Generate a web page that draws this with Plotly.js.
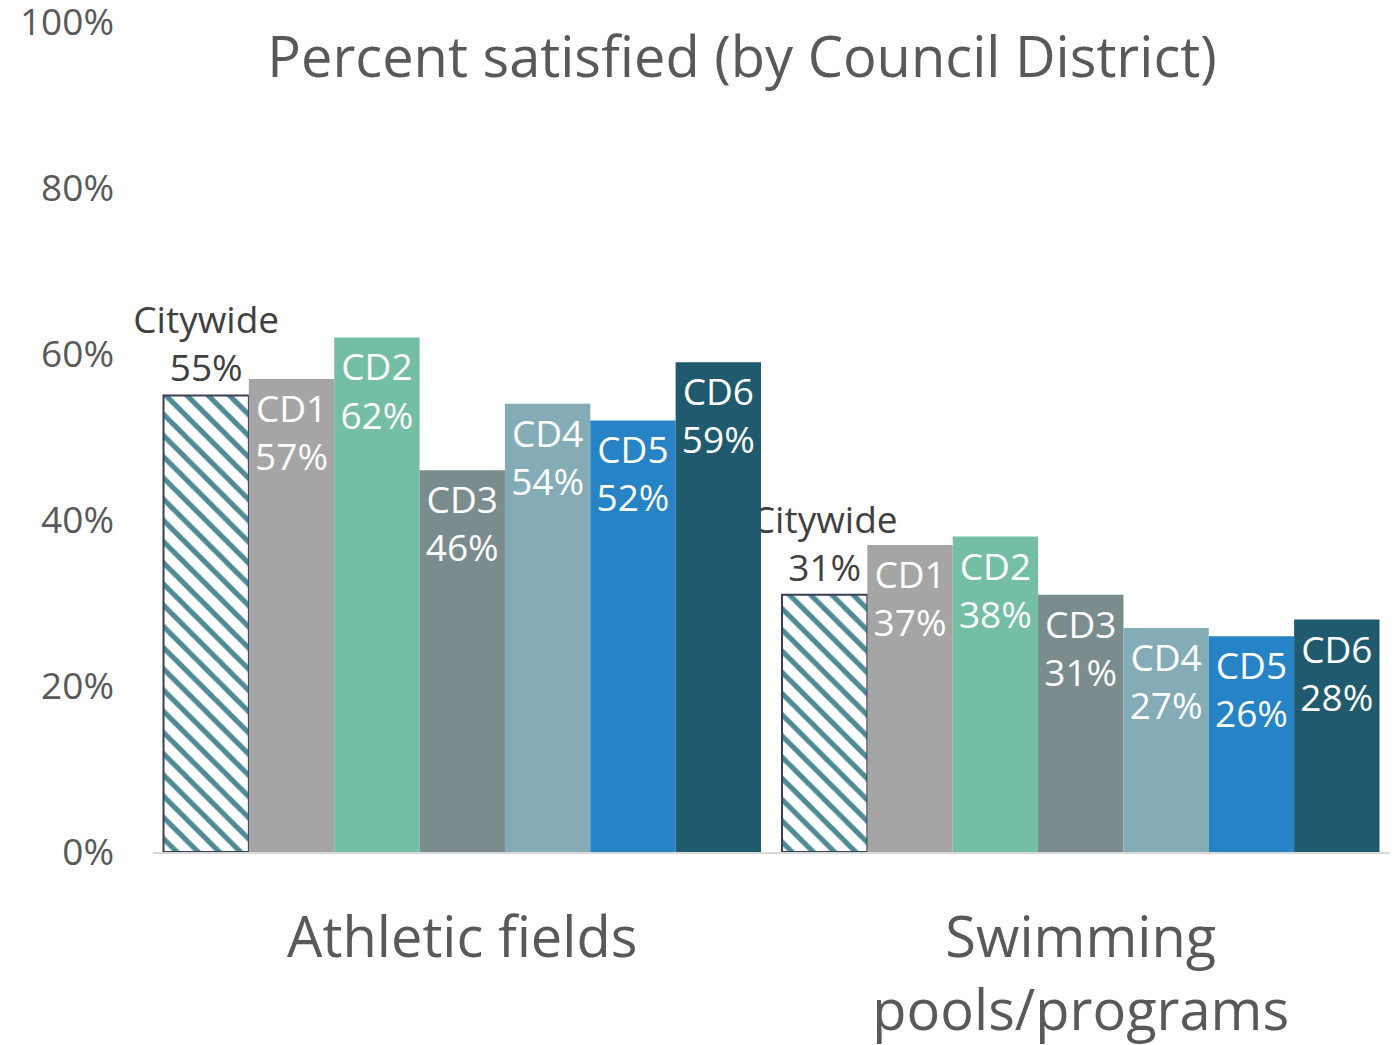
<!DOCTYPE html>
<html>
<head>
<meta charset="utf-8">
<script src="https://cdn.plot.ly/plotly-3.0.1.min.js"></script>
<style>html,body{margin:0;padding:0;background:#fff;}#chart{width:1400px;height:1045px;}</style>
</head>
<body>
<div id="chart"></div>
<script>
const categories = ["Athletic fields", "Swimming<br>pools/programs"];
const seriesNames = ["Citywide", "CD1", "CD2", "CD3", "CD4", "CD5", "CD6"];
const citywide = [55, 31];
const cd1 = [57, 37];
const cd2 = [62, 38];
const cd3 = [46, 31];
const cd4 = [54, 27];
const cd5 = [52, 26];
const cd6 = [59, 28];
const tickVals = [0, 20, 40, 60, 80, 100];
const tickText = ["0%", "20%", "40%", "60%", "80%", "100%"];

const seriesValues = [citywide, cd1, cd2, cd3, cd4, cd5, cd6];
const colors = ["#ffffff", "#a5a5a5", "#74bea6", "#7a8c8e", "#84acb6", "#2683c6", "#1f5a6e"];
const FONT = "Open Sans, Noto Sans, DejaVu Sans, sans-serif";

const traces = seriesNames.map((name, i) => {
  const t = {
    type: "bar",
    name: name,
    x: categories,
    y: seriesValues[i],
    texttemplate: name + "<br>%{y}%",
    cliponaxis: false,
    constraintext: "none",
    hoverinfo: "skip",
    marker: { color: colors[i], line: { width: 0 } }
  };
  if (i === 0) {
    t.textposition = "outside";
    t.textfont = { family: FONT, size: 37, color: "#404040" };
    t.marker = {
      color: "#ffffff",
      line: { color: "#3b3f55", width: 2 },
      pattern: { shape: "\\", fgcolor: "#4f8a95", bgcolor: "#ffffff", size: 15, solidity: 0.35, fillmode: "replace" }
    };
  } else {
    t.textposition = "inside";
    t.insidetextanchor = "end";
    t.textfont = { family: FONT, size: 37, color: "#ffffff" };
  }
  return t;
});

const layout = {
  width: 1400,
  height: 1045,
  paper_bgcolor: "#ffffff",
  plot_bgcolor: "#ffffff",
  showlegend: false,
  barmode: "group",
  bargap: 0.034,
  bargroupgap: 0,
  margin: { l: 153, r: 10, t: 22, b: 193 },
  title: {
    text: "Percent satisfied (by Council District)",
    font: { family: FONT, size: 56, color: "#595959" },
    xref: "container", x: 0.53, xanchor: "center",
    yref: "container", y: 0.945, yanchor: "middle"
  },
  xaxis: {
    type: "category",
    showline: true,
    linecolor: "#d9d9d9",
    linewidth: 2,
    ticks: "",
    showgrid: false,
    ticklabelstandoff: 36,
    tickfont: { family: FONT, size: 56, color: "#595959" }
  },
  yaxis: {
    range: [0, 100.001],
    tickvals: tickVals,
    ticktext: tickText,
    showgrid: false,
    zeroline: false,
    showline: false,
    ticks: "",
    ticklabeloverflow: "allow",
    ticklabelstandoff: 38,
    tickfont: { family: FONT, size: 37, color: "#595959" }
  }
};

Plotly.newPlot("chart", traces, layout, { displayModeBar: false, staticPlot: true });
</script>
</body>
</html>
